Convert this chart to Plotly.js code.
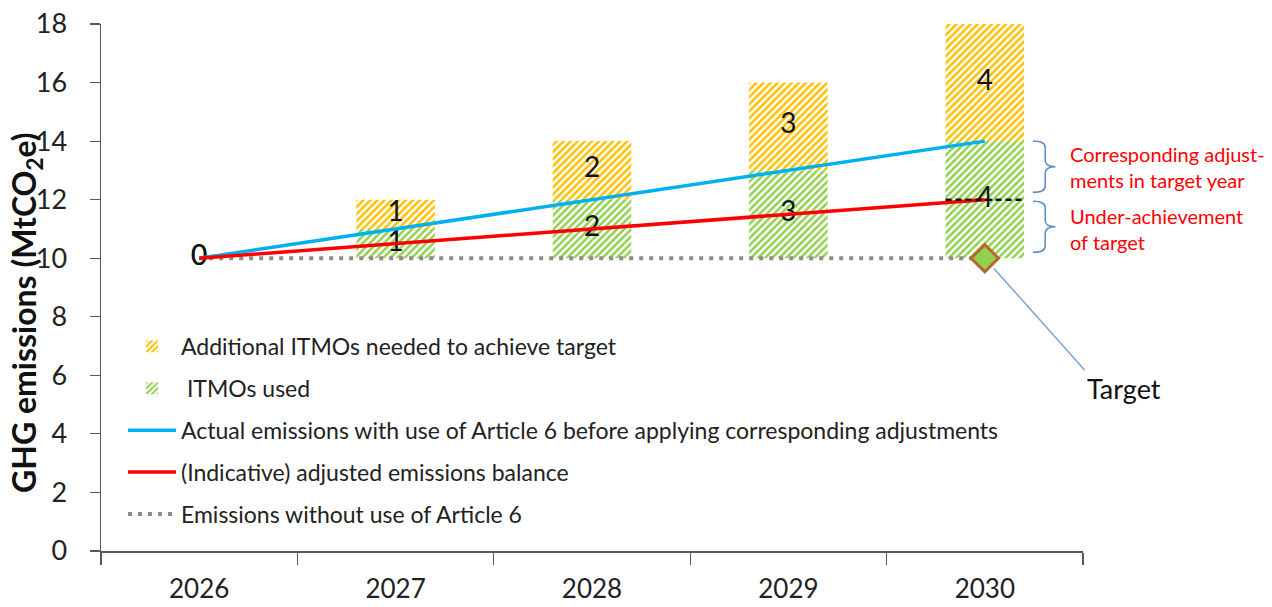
<!DOCTYPE html>
<html>
<head>
<meta charset="utf-8">
<script src="https://cdn.plot.ly/plotly-3.0.1.min.js"></script>
<style>html,body{margin:0;padding:0;background:#fff;}#chart{width:1272px;height:607px;}</style>
</head>
<body>
<div id="chart"></div>
<script>
// ---- data ----
const years = ['2026', '2027', '2028', '2029', '2030'];
const itmosUsed = [0, 1, 2, 3, 4];
const additionalItmos = [0, 1, 2, 3, 4];
const withoutArticle6 = [10, 10, 10, 10, 10];
const actualWithArticle6 = [10, 11, 12, 13, 14];
const adjustedBalance = [10, 10.5, 11, 11.5, 12];
const targetYear = '2030';
const targetValue = 10;
const yTicks = [0, 2, 4, 6, 8, 10, 12, 14, 16, 18];

// ---- derived ----
const greenBase = withoutArticle6.slice();
const orangeBase = withoutArticle6.map((v, i) => v + itmosUsed[i]);
const greenMid = greenBase.map((b, i) => b + itmosUsed[i] / 2);
const orangeMid = orangeBase.map((b, i) => b + additionalItmos[i] / 2);
const last = years.length - 1;
const targetIdx = years.indexOf(targetYear);

const FONT = 'Lato, "Open Sans", sans-serif';
const ORANGE = '#ffc000';
const GREEN = '#92d050';

const traces = [
  {
    type: 'bar', name: 'Additional ITMOs needed to achieve target',
    x: years, y: additionalItmos, base: orangeBase, width: 0.4,
    marker: { color: '#ffffff', line: { width: 0 },
      pattern: { shape: '/', fgcolor: ORANGE, bgcolor: '#ffffff', size: 5, solidity: 0.5 } },
    legendgroup: 'a', legendrank: 1, hoverinfo: 'skip'
  },
  {
    type: 'bar', name: ' ITMOs used',
    x: years, y: itmosUsed, base: greenBase, width: 0.4,
    marker: { color: '#ffffff', line: { width: 0 },
      pattern: { shape: '/', fgcolor: GREEN, bgcolor: '#ffffff', size: 5, solidity: 0.5 } },
    legendgroup: 'b', legendrank: 2, hoverinfo: 'skip'
  },
  {
    type: 'scatter', mode: 'text', x: years, y: orangeMid, text: additionalItmos.map(String),
    textfont: { family: FONT, size: 28, color: '#111' }, showlegend: false, hoverinfo: 'skip'
  },
  {
    type: 'scatter', mode: 'text', x: years, y: greenMid, text: itmosUsed.map(String),
    textfont: { family: FONT, size: 28, color: '#111' }, showlegend: false, hoverinfo: 'skip'
  },
  {
    type: 'scatter', mode: 'lines', name: 'Emissions without use of Article 6',
    x: years, y: withoutArticle6,
    line: { color: '#8c8c8c', width: 4, dash: '4px,6px' },
    legendgroup: 'e', legendrank: 5, hoverinfo: 'skip'
  },
  {
    type: 'scatter', mode: 'lines', name: 'Actual emissions with use of Article 6 before applying corresponding adjustments',
    x: years, y: actualWithArticle6,
    line: { color: '#00b0f0', width: 3.5 },
    legendgroup: 'c', legendrank: 3, hoverinfo: 'skip'
  },
  {
    type: 'scatter', mode: 'lines', name: '(Indicative) adjusted emissions balance',
    x: years, y: adjustedBalance,
    line: { color: '#ff0000', width: 3.5 },
    legendgroup: 'd', legendrank: 4, hoverinfo: 'skip'
  },
  {
    type: 'scatter', mode: 'markers', x: [targetYear], y: [targetValue],
    marker: { symbol: 'diamond', size: 21, color: GREEN, line: { color: '#b5682c', width: 3 } },
    showlegend: false, hoverinfo: 'skip'
  }
];

// brace path (paper x, data y)
function brace(yTop, yBot) {
  const x0 = 0.949, x1 = 0.9615, xt = 0.972, r = 0.22;
  const yM = (yTop + yBot) / 2;
  return `M${x0},${yTop} Q${x1},${yTop} ${x1},${yTop - r} L${x1},${yM + r} Q${x1},${yM} ${xt},${yM} ` +
         `Q${x1},${yM} ${x1},${yM - r} L${x1},${yBot + r} Q${x1},${yBot} ${x0},${yBot}`;
}

const layout = {
  width: 1272, height: 607,
  margin: { l: 101, r: 189, t: 24, b: 56 },
  paper_bgcolor: '#ffffff', plot_bgcolor: '#ffffff',
  barmode: 'overlay',
  font: { family: FONT, color: '#222' },
  showlegend: true,
  legend: {
    x: 0.0224, y: 0.429, xanchor: 'left', yanchor: 'top',
    bgcolor: 'rgba(0,0,0,0)', font: { family: FONT, size: 23, color: '#222' },
    traceorder: 'grouped', tracegroupgap: 9, itemwidth: 48
  },
  xaxis: {
    type: 'category', categoryorder: 'array', categoryarray: years,
    range: [-0.5, 4.5], showgrid: false, zeroline: false,
    showline: true, linecolor: '#595959', linewidth: 1.5,
    ticks: 'outside', tickson: 'boundaries', ticklen: 12, tickcolor: '#595959', tickwidth: 1.2,
    ticklabelstandoff: 14,
    tickfont: { family: FONT, size: 26, color: '#222' }
  },
  yaxis: {
    range: [0, 18], tickvals: yTicks, ticktext: yTicks.map(String),
    showgrid: false, zeroline: false,
    showline: true, linecolor: '#595959', linewidth: 1.5,
    ticks: 'outside', ticklen: 10, tickcolor: '#595959', tickwidth: 1.2,
    ticklabelstandoff: 17,
    tickfont: { family: FONT, size: 27, color: '#222' }
  },
  shapes: [
    { type: 'line', xref: 'x', yref: 'y', x0: last - 0.2, x1: last + 0.2,
      y0: adjustedBalance[last], y1: adjustedBalance[last],
      line: { color: '#111', width: 2.5, dash: '6px,4px' }, layer: 'above' },
    { type: 'path', xref: 'paper', yref: 'y', path: brace(actualWithArticle6[last], adjustedBalance[last] + 0.25),
      line: { color: '#5b8ac6', width: 1.5 } },
    { type: 'path', xref: 'paper', yref: 'y', path: brace(adjustedBalance[last] - 0.05, withoutArticle6[last] + 0.2),
      line: { color: '#5b8ac6', width: 1.5 } }
  ],
  annotations: [
    { xref: 'paper', yref: 'paper', x: -0.0764, y: 0.4535, textangle: -90,
      xanchor: 'center', yanchor: 'middle', showarrow: false,
      text: '<b>GHG emissions (MtCO<sub>2</sub>e)</b>', font: { family: FONT, size: 32, color: '#111' } },
    { xref: 'paper', yref: 'y', x: 0.985, y: (actualWithArticle6[last] + adjustedBalance[last]) / 2 + 0.1,
      xanchor: 'left', yanchor: 'middle', align: 'left', showarrow: false,
      text: 'Corresponding adjust-<br>ments in target year', font: { family: FONT, size: 20, color: '#ff0000' } },
    { xref: 'paper', yref: 'y', x: 0.985, y: (adjustedBalance[last] + withoutArticle6[last]) / 2,
      xanchor: 'left', yanchor: 'middle', align: 'left', showarrow: false,
      text: 'Under-achievement<br>of target', font: { family: FONT, size: 20, color: '#ff0000' } },
    { xref: 'x', yref: 'y', x: targetIdx, y: targetValue, text: 'Target', showarrow: true,
      xanchor: 'left', yanchor: 'top', ax: 100, ay: 112,
      arrowhead: 0, arrowwidth: 1.5, arrowcolor: '#7aa3d8', standoff: 14,
      font: { family: FONT, size: 27, color: '#111' } }
  ]
};

Plotly.newPlot('chart', traces, layout, { staticPlot: true, displayModeBar: false });
</script>
</body>
</html>
